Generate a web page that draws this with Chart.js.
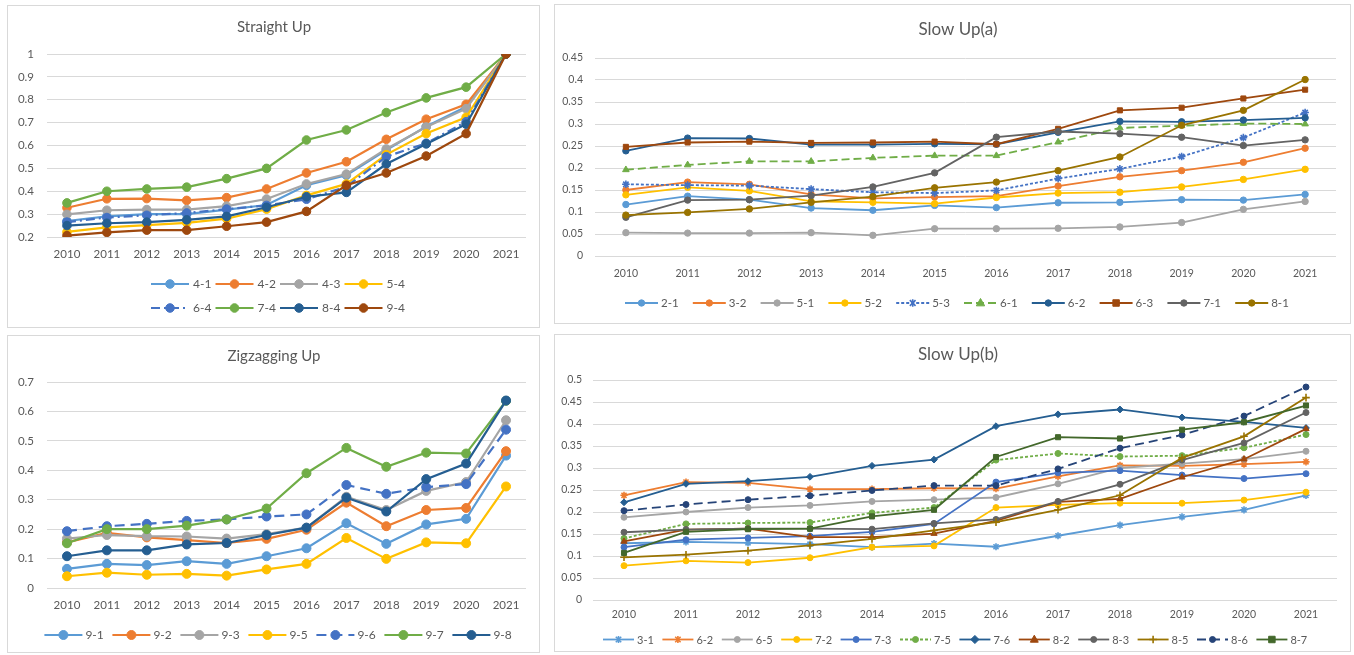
<!DOCTYPE html>
<html>
<head>
<meta charset="utf-8">
<title>Growth trajectories 2010–2021</title>
<script src="https://cdn.jsdelivr.net/npm/chart.js@4/dist/chart.umd.min.js"></script>
<style>
  html, body { margin: 0; padding: 0; background: #fff; }
  body { width: 1354px; height: 655px; position: relative; overflow: hidden; font-family: Lato, sans-serif; }
  .panel { position: absolute; border: 1px solid #d9d9d9; background: #fff; }
  .panel canvas { position: absolute; left: 0; top: 0; }
</style>
</head>
<body>
<div class="panel" style="left:7px;top:5px;width:531px;height:321px"><canvas id="c1" width="531" height="321"></canvas></div>
<div class="panel" style="left:554px;top:4px;width:795px;height:318px"><canvas id="c2" width="795" height="318"></canvas></div>
<div class="panel" style="left:7px;top:335px;width:531px;height:316px"><canvas id="c3" width="531" height="316"></canvas></div>
<div class="panel" style="left:554px;top:334px;width:795px;height:316px"><canvas id="c4" width="795" height="316"></canvas></div>
<script>
// ---------- data ----------
const years = ['2010','2011','2012','2013','2014','2015','2016','2017','2018','2019','2020','2021'];

// Straight Up
const s4_1 = [0.27, 0.29, 0.30, 0.30, 0.32, 0.34, 0.426, 0.47, 0.58, 0.683, 0.77, 1.0];
const s4_2 = [0.328, 0.367, 0.368, 0.36, 0.372, 0.41, 0.48, 0.529, 0.627, 0.715, 0.78, 1.0];
const s4_3 = [0.299, 0.317, 0.32, 0.32, 0.335, 0.366, 0.432, 0.475, 0.585, 0.681, 0.761, 1.0];
const s5_4 = [0.222, 0.242, 0.252, 0.262, 0.28, 0.322, 0.382, 0.432, 0.56, 0.652, 0.723, 1.0];
const s6_4 = [0.265, 0.285, 0.295, 0.305, 0.322, 0.338, 0.365, 0.42, 0.551, 0.61, 0.704, 1.0];
const s7_4 = [0.349, 0.40, 0.41, 0.418, 0.455, 0.50, 0.624, 0.668, 0.744, 0.808, 0.855, 1.0];
const s8_4 = [0.25, 0.26, 0.265, 0.275, 0.29, 0.33, 0.376, 0.395, 0.519, 0.607, 0.693, 1.0];
const s9_4 = [0.206, 0.22, 0.23, 0.23, 0.247, 0.265, 0.312, 0.426, 0.48, 0.554, 0.652, 1.0];

// Slow Up(a)
const a2_1 = [0.117, 0.136, 0.128, 0.109, 0.104, 0.115, 0.110, 0.121, 0.122, 0.128, 0.127, 0.140];
const a3_2 = [0.150, 0.168, 0.163, 0.140, 0.131, 0.134, 0.136, 0.159, 0.180, 0.194, 0.213, 0.245];
const a5_1 = [0.053, 0.052, 0.052, 0.053, 0.047, 0.062, 0.062, 0.063, 0.066, 0.076, 0.106, 0.124];
const a5_2 = [0.139, 0.156, 0.148, 0.124, 0.122, 0.119, 0.133, 0.143, 0.145, 0.157, 0.174, 0.197];
const a5_3 = [0.163, 0.161, 0.160, 0.152, 0.145, 0.143, 0.149, 0.176, 0.198, 0.226, 0.269, 0.326];
const a6_1 = [0.196, 0.207, 0.215, 0.215, 0.223, 0.228, 0.228, 0.259, 0.291, 0.296, 0.301, 0.300];
const a6_2 = [0.239, 0.268, 0.267, 0.253, 0.253, 0.255, 0.254, 0.281, 0.306, 0.305, 0.309, 0.314];
const a6_3 = [0.248, 0.258, 0.260, 0.257, 0.258, 0.260, 0.254, 0.289, 0.331, 0.337, 0.358, 0.378];
const a7_1 = [0.088, 0.127, 0.128, 0.137, 0.157, 0.189, 0.270, 0.283, 0.278, 0.270, 0.251, 0.264];
const a8_1 = [0.093, 0.099, 0.107, 0.122, 0.135, 0.155, 0.168, 0.194, 0.225, 0.297, 0.331, 0.401];

// Zigzagging Up
const z9_1 = [0.065, 0.082, 0.078, 0.091, 0.082, 0.108, 0.135, 0.220, 0.150, 0.216, 0.235, 0.450];
const z9_2 = [0.155, 0.187, 0.172, 0.163, 0.153, 0.167, 0.198, 0.290, 0.210, 0.265, 0.272, 0.465];
const z9_3 = [0.168, 0.180, 0.176, 0.175, 0.168, 0.183, 0.205, 0.310, 0.265, 0.330, 0.360, 0.570];
const z9_5 = [0.040, 0.052, 0.045, 0.048, 0.042, 0.063, 0.082, 0.170, 0.099, 0.155, 0.152, 0.345];
const z9_6 = [0.193, 0.210, 0.218, 0.228, 0.233, 0.243, 0.250, 0.350, 0.320, 0.343, 0.353, 0.538];
const z9_7 = [0.152, 0.200, 0.200, 0.212, 0.233, 0.270, 0.390, 0.476, 0.412, 0.460, 0.457, 0.636];
const z9_8 = [0.108, 0.128, 0.128, 0.148, 0.153, 0.180, 0.205, 0.307, 0.260, 0.370, 0.423, 0.637];

// Slow Up(b)
const b3_1 = [0.129, 0.132, 0.130, 0.127, 0.120, 0.128, 0.121, 0.146, 0.170, 0.189, 0.205, 0.238];
const b6_2 = [0.238, 0.268, 0.266, 0.252, 0.252, 0.254, 0.253, 0.281, 0.306, 0.305, 0.309, 0.314];
const b6_5 = [0.188, 0.200, 0.210, 0.215, 0.224, 0.228, 0.233, 0.264, 0.300, 0.310, 0.320, 0.338];
const b7_2 = [0.078, 0.089, 0.085, 0.096, 0.120, 0.123, 0.210, 0.216, 0.220, 0.220, 0.227, 0.245];
const b7_3 = [0.120, 0.137, 0.141, 0.145, 0.155, 0.173, 0.268, 0.289, 0.294, 0.284, 0.276, 0.287];
const b7_5 = [0.140, 0.173, 0.175, 0.176, 0.198, 0.210, 0.318, 0.333, 0.326, 0.328, 0.346, 0.376];
const b7_6 = [0.222, 0.264, 0.270, 0.280, 0.305, 0.319, 0.395, 0.422, 0.433, 0.415, 0.405, 0.391];
const b8_2 = [0.133, 0.160, 0.162, 0.143, 0.143, 0.151, 0.180, 0.223, 0.230, 0.279, 0.320, 0.389];
const b8_3 = [0.154, 0.160, 0.162, 0.162, 0.161, 0.174, 0.183, 0.224, 0.263, 0.318, 0.357, 0.426];
const b8_5 = [0.097, 0.103, 0.112, 0.124, 0.139, 0.158, 0.177, 0.205, 0.238, 0.323, 0.372, 0.460];
const b8_6 = [0.203, 0.217, 0.228, 0.237, 0.249, 0.260, 0.260, 0.298, 0.345, 0.375, 0.418, 0.484];
const b8_7 = [0.107, 0.155, 0.161, 0.162, 0.190, 0.205, 0.325, 0.370, 0.367, 0.387, 0.404, 0.442];

// ---------- styling ----------
const C = {
  blue: '#5B9BD5', orange: '#ED7D31', gray: '#A5A5A5', gold: '#FFC000',
  blue2: '#4472C4', green: '#70AD47', navy: '#255E91', rust: '#9E480E',
  dgray: '#636363', olive: '#997300', navy2: '#264478', dgreen: '#43682B'
};
const TEXT = '#595959';
const FONT = 'Lato, "Open Sans", sans-serif';

const panels = [
  {
    id: 'c1', title: 'Straight Up', titleSize: 15, titleX: 266, titleY: 21,
    min: 0.2, max: 1, step: 0.1,
    area: { left: 39, top: 48, right: 13, bottom: 60 }, xH: 30,
    yPad: 13, xPad: 10, tickSize: 11.5,
    lineW: 2.2, pointR: 4.3,
    legend: { x: 143, pitch: 64.5, line: 38, textOff: 42, rows: [278, 302], perRow: 4, size: 12 },
    series: [
      ['4-1', s4_1, { color: C.blue }],
      ['4-2', s4_2, { color: C.orange }],
      ['4-3', s4_3, { color: C.gray }],
      ['5-4', s5_4, { color: C.gold }],
      ['6-4', s6_4, { color: C.blue2, dash: [9, 4, 2, 4] }],
      ['7-4', s7_4, { color: C.green }],
      ['8-4', s8_4, { color: C.navy }],
      ['9-4', s9_4, { color: C.rust }]
    ]
  },
  {
    id: 'c2', title: 'Slow Up(a)', titleSize: 17, titleX: 403, titleY: 25,
    min: 0, max: 0.45, step: 0.05,
    area: { left: 40, top: 53, right: 14, bottom: 37 }, xH: 30,
    yPad: 12, xPad: 11, tickSize: 10.5,
    lineW: 1.8, pointR: 3.2,
    legend: { x: 70, pitch: 67.8, line: 33, textOff: 36, rows: [298], perRow: 10, size: 11.5 },
    series: [
      ['2-1', a2_1, { color: C.blue }],
      ['3-2', a3_2, { color: C.orange }],
      ['5-1', a5_1, { color: C.gray }],
      ['5-2', a5_2, { color: C.gold }],
      ['5-3', a5_3, { color: C.blue2, dash: [3, 2], marker: 'star', r: 3.8 }],
      ['6-1', a6_1, { color: C.green, dash: [8, 4], marker: 'triangle', r: 3.8 }],
      ['6-2', a6_2, { color: C.navy }],
      ['6-3', a6_3, { color: C.rust, marker: 'rect', r: 3.6 }],
      ['7-1', a7_1, { color: C.dgray }],
      ['8-1', a8_1, { color: C.olive }]
    ]
  },
  {
    id: 'c3', title: 'Zigzagging Up', titleSize: 15, titleX: 266, titleY: 20,
    min: 0, max: 0.7, step: 0.1,
    area: { left: 39, top: 46, right: 13, bottom: 34 }, xH: 30,
    yPad: 13, xPad: 10, tickSize: 11.5,
    lineW: 2.2, pointR: 4.5,
    legend: { x: 36.4, pitch: 68, line: 38, textOff: 41, rows: [299], perRow: 7, size: 12 },
    series: [
      ['9-1', z9_1, { color: C.blue }],
      ['9-2', z9_2, { color: C.orange }],
      ['9-3', z9_3, { color: C.gray }],
      ['9-5', z9_5, { color: C.gold }],
      ['9-6', z9_6, { color: C.blue2, dash: [10, 6] }],
      ['9-7', z9_7, { color: C.green }],
      ['9-8', z9_8, { color: C.navy }]
    ]
  },
  {
    id: 'c4', title: 'Slow Up(b)', titleSize: 17, titleX: 403, titleY: 20,
    min: 0, max: 0.5, step: 0.05,
    area: { left: 38, top: 45, right: 13, bottom: 26 }, xH: 25,
    yPad: 11, xPad: 8, tickSize: 10.5,
    lineW: 1.8, pointR: 3,
    legend: { x: 48, pitch: 59.4, line: 31, textOff: 34, rows: [304.5], perRow: 12, size: 11 },
    series: [
      ['3-1', b3_1, { color: C.blue, marker: 'star', r: 3.6 }],
      ['6-2', b6_2, { color: C.orange, marker: 'star', r: 3.6 }],
      ['6-5', b6_5, { color: C.gray }],
      ['7-2', b7_2, { color: C.gold }],
      ['7-3', b7_3, { color: C.blue2 }],
      ['7-5', b7_5, { color: C.green, dash: [3, 2] }],
      ['7-6', b7_6, { color: C.navy, marker: 'rectRot', r: 3.4 }],
      ['8-2', b8_2, { color: C.rust, marker: 'triangle', r: 3.6 }],
      ['8-3', b8_3, { color: C.dgray }],
      ['8-5', b8_5, { color: C.olive, marker: 'cross', r: 3.8 }],
      ['8-6', b8_6, { color: C.navy2, dash: [9, 5] }],
      ['8-7', b8_7, { color: C.dgreen, marker: 'rect', r: 3.6 }]
    ]
  }
];

// ---------- helpers ----------
function fmtTick(v) {
  return String(Math.round(v * 100) / 100);
}

function markerPath(ctx, style, x, y, r) {
  ctx.beginPath();
  if (style === 'rect') {
    const s = r * 0.9;
    ctx.rect(x - s, y - s, 2 * s, 2 * s);
  } else if (style === 'rectRot') {
    ctx.moveTo(x, y - r * 1.2); ctx.lineTo(x + r * 1.2, y); ctx.lineTo(x, y + r * 1.2); ctx.lineTo(x - r * 1.2, y); ctx.closePath();
  } else if (style === 'triangle') {
    ctx.moveTo(x, y - r * 1.2); ctx.lineTo(x + r * 1.1, y + r * 0.75); ctx.lineTo(x - r * 1.1, y + r * 0.75); ctx.closePath();
  } else if (style === 'star') {
    const d = r * 0.75;
    ctx.moveTo(x - d, y - d); ctx.lineTo(x + d, y + d);
    ctx.moveTo(x + d, y - d); ctx.lineTo(x - d, y + d);
    ctx.moveTo(x, y - r); ctx.lineTo(x, y + r);
  } else if (style === 'cross') {
    ctx.moveTo(x - r, y); ctx.lineTo(x + r, y);
    ctx.moveTo(x, y - r); ctx.lineTo(x, y + r);
  } else {
    ctx.arc(x, y, r, 0, Math.PI * 2);
  }
}

// title and legend laid out the way the workbook charts show them
const panelDeco = {
  id: 'panelDeco',
  afterDraw(chart, args, opts) {
    const p = opts.panel;
    const ctx = chart.ctx;
    ctx.save();
    ctx.fillStyle = TEXT;
    ctx.textBaseline = 'middle';
    ctx.textAlign = 'center';
    ctx.font = `${p.titleSize}px ${FONT}`;
    ctx.fillText(p.title, p.titleX, p.titleY);

    const L = p.legend;
    ctx.textAlign = 'left';
    ctx.font = `${L.size}px ${FONT}`;
    chart.data.datasets.forEach((ds, i) => {
      const row = Math.floor(i / L.perRow);
      const col = i % L.perRow;
      const x = L.x + col * L.pitch;
      const y = L.rows[row];
      ctx.save();
      ctx.strokeStyle = ds.borderColor;
      ctx.fillStyle = ds.borderColor;
      ctx.lineWidth = ds.borderWidth;
      ctx.setLineDash(ds.borderDash || []);
      ctx.beginPath();
      ctx.moveTo(x, y);
      ctx.lineTo(x + L.line, y);
      ctx.stroke();
      ctx.setLineDash([]);
      ctx.lineWidth = ds.pointBorderWidth;
      markerPath(ctx, ds.pointStyle, x + L.line / 2, y, ds.pointRadius);
      if (ds.pointStyle !== 'star' && ds.pointStyle !== 'cross') ctx.fill();
      ctx.stroke();
      ctx.restore();
      ctx.fillStyle = TEXT;
      ctx.fillText(ds.label, x + L.textOff, y + 0.5);
    });
    ctx.restore();
  }
};

function build(p) {
  const datasets = p.series.map(([label, data, st], i) => {
    const marker = st.marker || 'circle';
    const open = marker === 'star' || marker === 'cross';
    return {
      label,
      data,
      order: -i,
      borderColor: st.color,
      backgroundColor: st.color,
      borderWidth: p.lineW,
      borderDash: st.dash || [],
      pointStyle: marker,
      pointRadius: st.r || p.pointR,
      pointHoverRadius: st.r || p.pointR,
      pointBackgroundColor: st.color,
      pointBorderColor: st.color,
      pointBorderWidth: open ? 1.6 : 1,
      tension: 0,
      fill: false
    };
  });

  return new Chart(document.getElementById(p.id), {
    type: 'line',
    data: { labels: years, datasets },
    plugins: [panelDeco],
    options: {
      responsive: false,
      animation: false,
      events: [],
      layout: { padding: { top: p.area.top, left: 0, right: p.area.right, bottom: p.area.bottom } },
      plugins: {
        legend: { display: false },
        title: { display: false },
        tooltip: { enabled: false },
        panelDeco: { panel: p }
      },
      scales: {
        x: {
          type: 'category',
          offset: true,
          grid: { display: false, drawTicks: false },
          border: { display: false },
          ticks: {
            color: TEXT, padding: p.xPad, maxRotation: 0, autoSkip: false,
            font: { family: FONT, size: p.tickSize }
          },
          afterFit: (s) => { s.height = p.xH; }
        },
        y: {
          min: p.min, max: p.max,
          grid: { color: '#d9d9d9', lineWidth: 1, drawTicks: false },
          border: { display: false },
          ticks: {
            stepSize: p.step, color: TEXT, padding: p.yPad,
            font: { family: FONT, size: p.tickSize },
            callback: (v) => fmtTick(v)
          },
          afterFit: (s) => { s.width = p.area.left; }
        }
      }
    }
  });
}

panels.forEach(build);
</script>
</body>
</html>
